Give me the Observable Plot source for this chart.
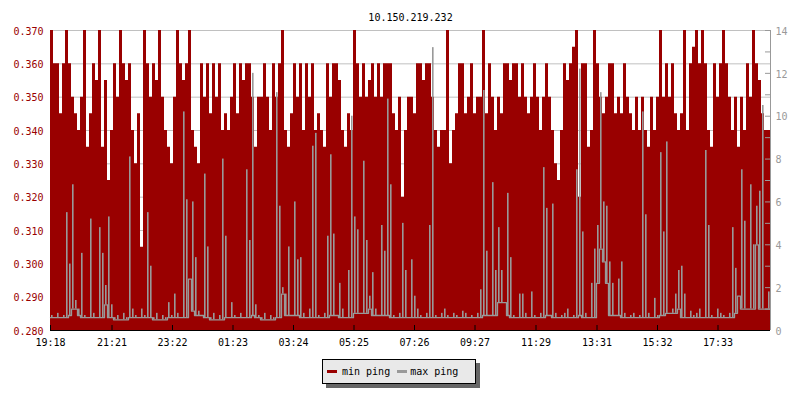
<!DOCTYPE html>
<html><head><meta charset="utf-8">
<script src="https://cdn.jsdelivr.net/npm/d3@7"></script>
<script src="https://cdn.jsdelivr.net/npm/@observablehq/plot@0.6"></script>
<style>
body{margin:0;background:#fff;font-family:"DejaVu Sans Mono",monospace;}
#wrap{position:relative;width:800px;height:400px;}
#legend{position:absolute;left:322px;top:359px;width:154px;height:25px;background:#e9e9e9;border:1px solid #000;box-shadow:4px 4px 0 #666;font-size:10px;display:flex;align-items:center;box-sizing:border-box;padding-left:4px;color:#000;}
.sw{display:inline-block;width:10px;height:3px;}
</style></head>
<body><div id="wrap"><div id="legend"></div></div>
<script>
const title = "10.150.219.232";
const seriesNames = ["min ping", "max ping"];
const seriesColors = ["#990000", "#999999"];
const startLabel = "19:18";
const stepMinutes = 6;

// min ping (left axis), one value per 6-minute step
const minPing = [
0.370,0.360,0.360,0.345,0.360,0.370,0.360,0.350,0.345,0.340,
0.350,0.370,0.335,0.345,0.360,0.355,0.370,0.335,0.355,0.325,
0.340,0.360,0.350,0.370,0.360,0.355,0.360,0.340,0.330,0.345,
0.305,0.370,0.360,0.350,0.360,0.355,0.370,0.350,0.340,0.335,
0.330,0.350,0.370,0.360,0.355,0.360,0.370,0.340,0.335,0.330,
0.360,0.350,0.360,0.345,0.360,0.350,0.360,0.340,0.345,0.340,
0.350,0.360,0.345,0.360,0.355,0.360,0.360,0.350,0.335,0.350,
0.350,0.360,0.350,0.340,0.360,0.350,0.360,0.370,0.340,0.335,
0.345,0.360,0.350,0.360,0.340,0.360,0.350,0.360,0.340,0.345,
0.340,0.335,0.360,0.350,0.360,0.360,0.355,0.340,0.335,0.345,
0.340,0.370,0.360,0.350,0.360,0.350,0.355,0.360,0.350,0.360,
0.350,0.360,0.360,0.360,0.345,0.340,0.350,0.320,0.340,0.350,
0.350,0.345,0.360,0.360,0.355,0.360,0.360,0.350,0.340,0.335,
0.340,0.340,0.370,0.330,0.340,0.345,0.360,0.360,0.345,0.350,
0.360,0.345,0.350,0.350,0.370,0.345,0.360,0.350,0.340,0.350,
0.345,0.360,0.360,0.355,0.360,0.360,0.350,0.360,0.350,0.345,
0.350,0.360,0.350,0.340,0.350,0.360,0.350,0.340,0.330,0.325,
0.340,0.360,0.355,0.360,0.365,0.370,0.320,0.360,0.360,0.335,
0.340,0.370,0.360,0.350,0.345,0.350,0.360,0.360,0.345,0.350,
0.345,0.360,0.350,0.345,0.340,0.350,0.340,0.350,0.340,0.335,
0.350,0.340,0.350,0.370,0.350,0.360,0.350,0.360,0.345,0.340,
0.345,0.370,0.340,0.360,0.365,0.370,0.360,0.370,0.360,0.340,
0.335,0.360,0.350,0.360,0.370,0.360,0.350,0.340,0.350,0.335,
0.350,0.340,0.360,0.350,0.370,0.360,0.355,0.345,0.340,0.340
];

// max ping (right axis), same steps
const maxPing = [
0.7,0.6,0.8,0.6,0.7,5.5,3.1,6.8,1.4,1.0,
3.6,0.7,0.6,5.2,0.8,0.6,4.8,3.6,2.1,5.3,
1.2,0.6,0.7,0.5,0.8,0.6,8.1,1.0,0.7,0.6,
1.0,0.7,5.5,3.0,0.6,0.8,0.5,0.7,0.6,1.3,
0.7,1.7,0.8,0.6,10.2,6.1,2.4,6.0,3.4,0.9,
0.7,7.3,3.9,0.6,0.8,0.5,0.7,8.0,4.4,0.6,
1.3,0.7,0.6,0.8,0.6,7.5,4.2,12.0,1.2,0.7,
0.6,0.8,0.5,0.7,0.6,11.1,5.8,2.0,1.7,3.9,
0.7,6.0,3.3,3.4,0.8,0.6,1.0,8.6,9.2,0.7,
0.6,0.8,4.4,8.2,4.5,0.7,2.2,1.0,0.6,2.8,
10.0,5.3,4.7,0.8,7.9,4.2,1.6,2.7,1.0,0.7,
4.9,3.7,10.8,6.8,0.7,0.6,0.8,5.0,2.8,0.6,
3.3,1.6,1.0,0.7,0.6,0.8,4.9,13.2,0.7,0.6,
0.8,1.0,0.7,0.6,0.8,0.7,0.6,0.9,0.8,0.6,
0.7,0.6,0.8,1.9,11.2,3.7,0.7,6.9,2.8,4.8,
2.8,1.3,6.4,3.4,0.7,0.6,1.7,1.7,0.8,0.6,
1.8,0.7,0.6,0.8,7.6,5.7,0.7,5.9,0.8,0.6,
0.7,0.8,1.0,0.6,0.7,7.5,12.2,4.6,0.8,0.6,
2.2,3.8,4.9,11.1,6.0,5.8,3.2,2.2,0.7,2.4,
3.2,0.8,0.6,0.7,0.8,0.6,0.7,10.2,5.4,0.8,
0.6,1.5,0.7,8.3,4.6,8.8,0.8,1.0,1.7,2.8,
3.0,1.7,0.6,0.9,0.7,0.8,1.0,0.6,8.4,4.9,
0.7,0.6,1.0,0.8,0.7,0.6,0.8,4.8,2.9,1.6,
7.5,5.1,1.0,6.8,4.0,5.8,6.5,10.5,1.0,1.8
];

const xTickLabels = ["19:18","21:21","23:22","01:23","03:24","05:25","07:26","09:27","11:29","13:31","15:32","17:33"];
const leftTicks = [0.280,0.290,0.300,0.310,0.320,0.330,0.340,0.350,0.360,0.370];
const rightTicks = [0,1,2,3,4,5,6,7,8,9,10,11,12,13,14];

// ---- build
const [sh, sm] = startLabel.split(":").map(Number);
const start = Date.UTC(2024, 0, 1, sh, sm);
const stepMs = stepMinutes * 60000;
const yMin = leftTicks[0], yMax = leftTicks[leftTicks.length - 1];
const rMax = rightTicks[rightTicks.length - 1];
const toLeft = v => yMin + v / rMax * (yMax - yMin);
const n = minPing.length;
const end = new Date(start + n * stepMs);

// local floor of the max-ping trace (lowest value within two steps), spikes rise from it
const data = minPing.map((v, i) => {
  const lo = d3.min(maxPing.slice(Math.max(0, i - 2), Math.min(n, i + 3)));
  return {t: new Date(start + i * stepMs), t2: new Date(start + (i + 1) * stepMs), min: v, max: toLeft(maxPing[i]), lo: toLeft(lo)};
});
const last = data[n - 1];
const stepData = data.concat([{t: end, min: last.min, max: last.max, lo: last.lo}]);

const tickDates = xTickLabels.map(s => {
  const [h, m] = s.split(":").map(Number);
  let d = Date.UTC(2024, 0, 1, h, m);
  if (d < start) d += 86400000;
  return new Date(d);
});

const chart = Plot.plot({
  width: 800, height: 400,
  marginLeft: 50, marginRight: 30, marginTop: 30, marginBottom: 70,
  style: {fontFamily: "DejaVu Sans Mono, monospace", fontSize: "10px", background: "#fff", overflow: "visible"},
  x: {type: "utc", domain: [new Date(start), end]},
  y: {domain: [yMin, yMax]},
  marks: [
    Plot.ruleY(leftTicks.slice(1), {stroke: "#c0c0c0"}),
    Plot.areaY(stepData, {x: "t", y1: yMin, y2: "min", curve: "step-after", fill: seriesColors[0]}),
    Plot.lineY(stepData, {x: "t", y: "lo", curve: "step-after", stroke: seriesColors[1], strokeWidth: 1.3}),
    Plot.rectY(data.filter(d => d.max > d.lo), {x1: "t", x2: "t2", y1: "lo", y2: "max", fill: seriesColors[1], insetLeft: 1, insetRight: 0.4}),
    Plot.axisY({anchor: "left", ticks: leftTicks, tickSize: 0, tickPadding: 7, tickFormat: d3.format(".3f"), color: "#990000", label: null, dy: 1}),
    Plot.axisY({anchor: "right", ticks: rightTicks.filter(v => v % 2 === 0).map(toLeft), tickSize: 0, tickPadding: 5,
      tickFormat: d => String(Math.round((d - yMin) / (yMax - yMin) * rMax)), color: "#999", label: null, dy: 1}),
    Plot.tickY(rightTicks.map(toLeft), {y: d => d, stroke: "#999", insetLeft: 715}),
    Plot.ruleX([end], {stroke: "#999"}),
    Plot.axisX({ticks: tickDates, tickSize: 0, tickPadding: 8, tickFormat: d3.utcFormat("%H:%M"), color: "#000", label: null}),
    Plot.tickX(tickDates, {x: d => d, stroke: "#000", insetTop: 295}),
    Plot.ruleY([yMin], {stroke: "#000"}),
    Plot.text([title], {frameAnchor: "top", dy: -17, fill: "#000", fontSize: 10})
  ]
});
document.getElementById("wrap").prepend(chart);

const legend = document.getElementById("legend");
seriesNames.forEach((name, i) => {
  const sw = document.createElement("span");
  sw.className = "sw";
  sw.style.background = seriesColors[i];
  sw.style.marginLeft = i === 0 ? "0px" : "7px";
  sw.style.marginRight = i === 0 ? "5px" : "3px";
  const tx = document.createElement("span");
  tx.textContent = name;
  legend.append(sw, tx);
});
</script>
</body></html>
